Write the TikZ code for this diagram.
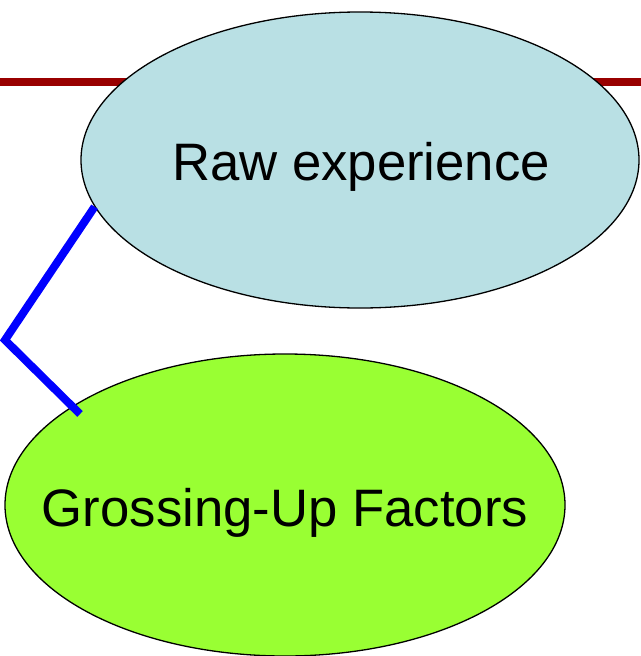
\documentclass[tikz,border=0pt]{standalone}
\usepackage{fontspec}
\setmainfont{Liberation Sans}
\usetikzlibrary{shapes.geometric}
\definecolor{rawblue}{RGB}{185,224,228}
\definecolor{grossgreen}{RGB}{153,255,51}
\definecolor{darkred}{RGB}{153,0,0}
\tikzset{
  oval/.style={ellipse, draw=black, line width=1.3pt, inner sep=0pt},
  ovaltext/.style={inner sep=0pt, anchor=base, font=\fontsize{52.7}{60}\selectfont},
  link/.style={draw=blue, line width=8pt, line cap=butt, line join=miter},
}
\begin{document}
\begin{tikzpicture}[x=1pt,y=-1pt]
\useasboundingbox (0,0) rectangle (640,656);
\coordinate (lineL) at (-5,82);
\coordinate (lineR) at (645,82);
\draw[darkred, line width=8pt] (lineL) -- (lineR);
\node[oval, fill=rawblue, minimum width=558pt, minimum height=296pt] (raw) at (360,160) {};
\node[ovaltext] (rawtext) at (361,180) {Raw experience};
\node[oval, fill=grossgreen, minimum width=560pt, minimum height=302pt] (gross) at (285,505) {};
\node[ovaltext] (grosstext) at (285,526) {Grossing-Up Factors};
\coordinate (bend) at (5,340);
\coordinate (tip) at (80,414);
\draw[link] (raw.190) -- (bend) -- (tip);
\end{tikzpicture}
\end{document}
